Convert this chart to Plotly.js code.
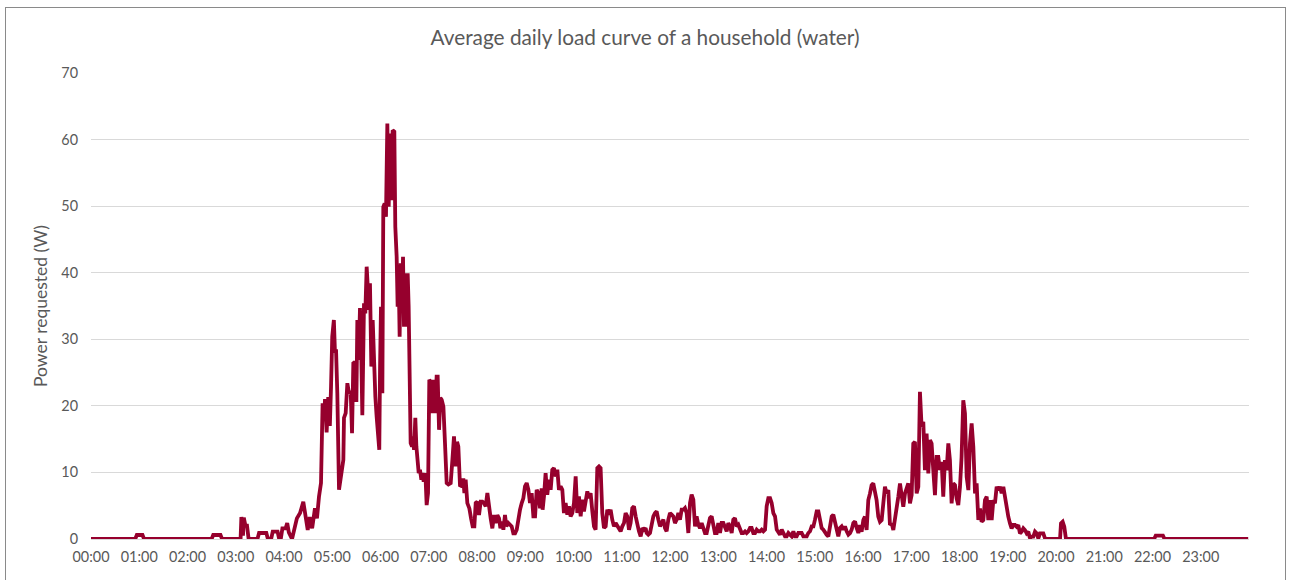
<!DOCTYPE html>
<html>
<head>
<meta charset="utf-8">
<script src="https://cdn.plot.ly/plotly-3.0.1.min.js"></script>
<style>
  html, body { margin: 0; padding: 0; background: #ffffff; }
  #wrap { position: relative; width: 1290px; height: 580px; overflow: hidden; }
  #chart { position: absolute; left: 0; top: 0; width: 1290px; height: 580px; }
  #frame { position: absolute; left: 5px; top: 7px; width: 1279px; height: 640px; border: 1px solid #8a8a8a; pointer-events: none; }
</style>
</head>
<body>
<div id="wrap">
  <div id="chart"></div>
  <div id="frame"></div>
</div>
<script>
// Time of day in minutes after midnight
const minutes = [
  0, 55, 57, 64, 66, 150, 152, 161, 163,
  186, 187, 189, 190, 192, 194, 196,
  207, 209, 218, 220, 224, 226, 232, 234,
  236, 238, 242, 244, 246, 250,
  256, 260, 264, 267, 269.5, 272, 275, 278.5, 281, 283.5, 286,
  288, 290, 291, 293, 295, 297, 298.5, 300, 302, 303.4, 304.7, 306.3, 308.4,
  311.7, 313.8, 314.6, 316.7, 318.8, 320.8, 322.9, 324.6, 326.2, 328.3, 330,
  331.2, 332.8, 334.5, 336.2, 337.4, 339.5, 341.1, 342.8, 344.5, 345.7, 346.9,
  348.6, 350.3, 351.9, 353.6, 355.2, 358.5, 359.4, 360.6, 362.3, 363.5, 365.2,
  366.8, 368.5, 370.2, 371.8, 373.5, 375.1, 377.2, 378.4, 380.1, 381.3, 382.6,
  383.8, 385.1, 386.7, 388, 389.2, 390.9, 392.1, 393.8, 395, 397.5, 399.2,
  400.4, 401.7, 403.3, 404.6, 405.8, 407.5, 409.1, 410.8, 412.4, 413.7, 415.8,
  417.4, 419.1, 420.7, 422.8, 424.5, 426.1, 427.8, 429.8, 431.1,
  432.8, 434.4, 436.1, 438.2, 440.2, 442.3, 444.4, 447.3, 449.4, 451.4, 453.5,
  455.2, 456.8, 458.9, 461, 463, 464.3, 465.9, 468, 470.5, 472.6, 474.6, 476.7,
  478.4, 480.4, 482.5, 484.6, 486.7, 488.7, 490.8, 492.9, 495, 497, 499.1,
  501.2, 503.2, 505.3, 507.4, 509.1, 510.7, 512.8, 514.8, 516.5, 519, 521.1,
  523.1, 525.2, 527.3, 529.4, 531.4, 533.5, 535.6, 537.6, 539.7, 541.8, 543.9,
  545.9, 548, 550.1, 552.2, 554.2, 556.3, 558.4, 560.4, 561.6, 563.3, 565.3,
  567.4, 569.5, 571.6, 573.6, 575.7, 577.8, 579.9, 581.9, 584, 586.1, 588.1,
  590.2, 592.3, 594.4, 596.4, 598.5, 600.6, 602.7, 604.7, 606.8, 608.9, 610.9,
  613, 615.1, 617.2, 619.2, 621.3, 623.4, 625.5, 627.5, 629.6, 631.7, 633.7,
  635.8, 637.9, 640, 642, 644.1, 646.2, 648.2, 650.3, 652.4, 654.5, 656.5,
  658.6, 660.7, 662.8, 664.8, 666.9, 669, 671, 673.1, 675.2, 677.3, 679.3,
  681.4, 683.5, 685.6, 687.6, 689.7,
  691.0, 693.0, 695.1, 697.2, 699.3, 701.3, 703.4, 705.5, 707.6, 709.6, 711.7,
  713.8, 715.8, 717.9, 720.0, 722.1, 724.1, 726.2, 728.3, 730.4, 732.4, 734.5,
  736.6, 738.6, 740.7, 742.8, 744.9, 746.9, 749.0, 751.1, 753.1, 755.2, 757.3,
  759.4, 761.4, 763.5, 765.6, 767.7, 769.7, 771.8, 773.9, 775.9, 778.0, 780.1,
  782.2, 784.2, 786.3, 788.4, 790.5, 792.5, 794.6, 796.7, 798.7, 800.8, 802.9,
  805.0, 807.0, 809.1, 811.2, 813.3, 815.3, 817.4, 819.5, 821.5, 823.6, 825.7,
  827.8, 829.9, 831.9, 834.0, 836.1, 838.2, 840.2, 842.3, 844.4, 846.4, 848.5,
  850.6, 852.7, 854.7, 856.8, 858.9, 861.0, 863.0, 865.1, 867.2, 869.2, 871.3,
  873.4, 875.5, 877.5, 879.6, 881.7, 883.7, 885.8, 887.9, 890.0, 892.0, 894.1,
  896.2, 898.3, 900.3, 902.4, 904.5, 906.5, 908.6, 910.7, 912.8, 914.8, 916.9,
  919.0, 921.1, 923.1, 925.2, 927.3, 929.3, 931.4, 933.5, 935.6, 937.6, 939.7,
  941.8, 943.9, 945.9, 948.0, 950.1, 952.1, 954.2,
  956.2, 958.3, 960.4, 962.4, 964.5, 966.6, 968.7, 970.7, 972.8, 974.9, 976.9,
  979.0, 981.1, 983.2, 985.2, 987.3, 989.4, 991.5, 993.5, 995.6, 997.7, 999.7,
  1001.8, 1003.9, 1006.0, 1008.0, 1010.1, 1012.2, 1014.2, 1016.3, 1018.4, 1020.5,
  1022.5, 1024.6, 1026.7, 1028.8, 1030.8, 1032.9, 1035.0, 1037.0, 1039.1, 1041.2,
  1043.3, 1045.3, 1047.4, 1049.5, 1051.6, 1053.6, 1055.7, 1057.8, 1059.8, 1061.9,
  1064.0, 1066.1, 1068.1, 1070.2, 1072.3, 1074.4, 1076.4, 1078.5, 1080.6, 1082.6,
  1084.7, 1086.8, 1088.9, 1091.0, 1093.0, 1095.1, 1097.2, 1099.3, 1101.3, 1103.4,
  1105.5, 1107.5, 1109.6, 1111.7, 1113.8, 1115.8, 1117.9, 1120.0, 1122.1, 1124.1,
  1126.2, 1128.3, 1130.3, 1132.4, 1134.5, 1136.6, 1138.6, 1140.7, 1142.8, 1144.8,
  1146.9, 1149.0, 1151.1, 1153.1, 1155.2, 1157.3, 1159.4, 1161.4, 1163.5, 1165.6,
  1167.6, 1169.7, 1171.8, 1173.9, 1175.9, 1178.0, 1180.1, 1182.2, 1184.2, 1186.3,
  1188.4, 1205.0, 1206.2, 1208.3, 1210.3, 1212.4,
  1322, 1324, 1333, 1335, 1439
];

// Average power requested (W)
const power = [
  0, 0, 0.6, 0.6, 0, 0, 0.6, 0.6, 0,
  0, 3.3, 0.5, 3.2, 2.0, 2.0, 0,
  0, 0.9, 0.9, 0, 0, 1.1, 1.1, 0,
  0, 1.6, 1.6, 2.4, 1.0, 0,
  3.1, 3.9, 5.6, 2.9, 1.35, 3.3, 1.6, 4.6, 3.1, 6.35, 8.4,
  20.4, 18.5, 21, 16, 21.3, 17, 22.9, 30.4, 32.9, 28, 28.5, 21.9, 7.4,
  9.9, 11.9, 18.2, 18.9, 23.4, 21.9, 22.2, 15.9, 26.4, 26.6, 20.6,
  32.9, 26.9, 34.7, 26.9, 18.6, 35.4, 33.9, 40.9, 37.9, 34.4, 38.4,
  25.9, 32.9, 25.9, 21.4, 18.4, 13.4, 25.4, 34.9, 21.9, 49.9, 50.4,
  48.4, 62.4, 49.9, 60.9, 50.9, 61.4, 61.2, 46.9, 42.4, 34.9, 39.4,
  30.4, 41.4, 34.9, 42.4, 31.9, 39.9, 31.9, 39.9, 34.9, 14.4, 13.9,
  15.4, 13.4, 18.2, 13.9, 12.4, 9.9, 10.4, 8.9, 9.9, 8.6, 9.9,
  5.1, 6.9, 23.9, 23.6, 18.9, 23.9, 18.9, 24.4, 24.4,
  16.4, 21.2, 20.9, 19.9, 14.4, 8.4, 8.2, 8.4, 11.9, 15.4, 10.9,
  14.6, 13.9, 7.9, 8.1, 9.1, 6.9, 8.9, 5.4, 4.6, 3.1, 1.9, 1.9,
  5.4, 5.6, 3.6, 5.6, 5.6, 5.4, 4.9, 6.9, 4.6, 3.1, 1.6,
  3.6, 2.4, 3.6, 3.1, 1.6, 2.6, 1.4, 3.6, 1.9, 2.4, 2.2,
  1.9, 0.85, 0.85, 1.4, 3.4, 4.4, 5.4, 6.1, 7.9, 8.4, 7.4,
  5.4, 6.9, 3.4, 3.4, 7.4, 6.9, 4.6, 7.6, 4.4, 6.4, 9.9,
  6.65, 8.9, 7.4, 10.4, 10.65, 9.4, 10.4, 7.4, 7.9, 7.4, 3.9,
  5.4, 3.65, 4.9, 3.4, 3.9, 5.4, 9.4, 3.9, 6.4, 3.4, 5.9,
  4.15, 5.9, 7.15, 6.15, 6.9, 4.15, 1.9, 1.4, 10.65, 10.9, 10.65,
  3.9, 1.65, 1.9, 4.4, 3.65, 4.4, 2.9, 1.9, 2.4, 1.9, 1.65,
  1.15, 1.9, 2.4, 3.9, 3.4, 1.4, 2.4, 4.65, 4.9, 3.4, 1.9,
  1.15, 0.4, 1.65, 1.4, 1.65,
  0.9, 0.65, 0.9, 2.4, 3.4, 3.9, 4.15, 2.9, 1.9, 2.4, 2.9,
  1.65, 1.15, 2.9, 3.9, 3.65, 3.4, 2.4, 2.9, 3.9, 2.9, 4.4,
  4.4, 4.65, 3.9, 0.9, 5.4, 6.65, 5.9, 1.9, 3.4, 2.15, 1.65,
  2.4, 1.65, 0.9, 0.9, 1.9, 3.15, 3.4, 2.4, 0.9, 0.9, 2.4,
  0.9, 2.4, 2.4, 1.9, 1.15, 2.4, 1.9, 0.9, 2.9, 3.15, 1.9,
  2.15, 1.65, 0.9, 0.9, 1.15, 0.9, 1.15, 1.65, 1.65, 0.9, 0.9,
  1.4, 1.15, 1.15, 1.4, 1.15, 1.4, 4.9, 6.15, 6.15, 5.4, 3.9,
  3.4, 1.4, 0.9, 0.65, 1.4, 0.9, 0.4, 0.4, 0.9, 0.65, 0.4,
  1.15, 0.4, 0.4, 0.9, 0.9, 0.9, 0.4, 0.4, 0.4, 0.9, 1.15,
  1.9, 1.9, 2.9, 4.15, 4.15, 2.9, 1.65, 1.4, 0.9, 0.65, 0.4,
  1.9, 3.4, 3.65, 2.4, 0.9, 0.4, 1.65, 1.9, 1.4, 1.9, 1.15,
  0.65, 0.9, 1.4, 2.4, 2.65, 1.65, 0.9,
  2.1, 1.1, 2.85, 3.35, 1.35, 5.85, 6.85, 8.1, 8.35, 6.85, 5.85,
  3.35, 2.6, 2.85, 5.85, 7.85, 6.85, 7.35, 2.1, 2.35, 1.35, 3.35,
  5.35, 6.35, 8.35, 6.6, 4.85, 6.85, 7.85, 8.35, 5.35, 6.6,
  14.35, 14.6, 6.85, 7.85, 22.1, 16.85, 17.6, 10.35, 15.85, 9.85,
  14.85, 14.35, 10.35, 6.6, 12.35, 12.35, 10.35, 11.6, 6.35, 11.85,
  10.35, 14.35, 11.85, 5.35, 8.35, 8.1, 6.1, 5.1, 7.85, 12.35,
  20.85, 18.85, 9.35, 7.35, 14.35, 17.35, 13.85, 6.85, 8.35, 2.85,
  4.6, 2.6, 2.85, 5.85, 6.35, 2.85, 5.85, 2.85, 5.85, 5.35,
  7.85, 7.35, 7.85, 6.85, 7.85, 6.35, 4.35, 3.35, 2.35, 1.6,
  2.1, 2.1, 1.85, 2.1, 0.85, 1.1, 1.6, 1.35, 0.85, 1.1,
  0.1, 0.35, 0.35, 1.1, 0.85, 0.1, 0.85, 0.85, 0.85, 0.1,
  0, 0, 2.35, 2.6, 1.85, 0,
  0, 0.5, 0.5, 0, 0
];

const hourTicks = [0, 60, 120, 180, 240, 300, 360, 420, 480, 540, 600, 660, 720,
  780, 840, 900, 960, 1020, 1080, 1140, 1200, 1260, 1320, 1380];
const hourLabels = ["00:00", "01:00", "02:00", "03:00", "04:00", "05:00", "06:00",
  "07:00", "08:00", "09:00", "10:00", "11:00", "12:00", "13:00", "14:00", "15:00",
  "16:00", "17:00", "18:00", "19:00", "20:00", "21:00", "22:00", "23:00"];

const chartTitle = "Average daily load curve of a household (water)";
const yTitle = "Power requested (W)";

const FONT = "Lato, 'Open Sans', sans-serif";
const GREY = "#595959";

const trace = {
  type: "scatter",
  mode: "lines",
  x: minutes,
  y: power,
  line: { color: "#96002D", width: 3.8, shape: "linear" },
  hoverinfo: "x+y",
  showlegend: false
};

const layout = {
  width: 1290,
  height: 580,
  margin: { l: 91, r: 41, t: 73, b: 41, pad: 0 },
  paper_bgcolor: "#ffffff",
  plot_bgcolor: "#ffffff",
  font: { family: FONT, color: GREY, size: 15 },
  title: {
    text: chartTitle,
    font: { family: FONT, size: 20.8, color: GREY },
    xref: "container", x: 0.5, xanchor: "center",
    yref: "container", y: 1 - 38 / 580, yanchor: "middle"
  },
  xaxis: {
    range: [0, 1440],
    tickmode: "array",
    tickvals: hourTicks,
    ticktext: hourLabels,
    showgrid: false,
    zeroline: false,
    showline: false,
    ticks: "",
    ticklabelstandoff: 8,
    tickfont: { family: FONT, size: 14.4, color: GREY },
    fixedrange: true
  },
  yaxis: {
    range: [0, 70],
    dtick: 10,
    tick0: 0,
    showgrid: true,
    gridcolor: "#D9D9D9",
    gridwidth: 1,
    zeroline: true,
    zerolinecolor: "#D9D9D9",
    zerolinewidth: 1,
    showline: false,
    ticks: "",
    ticklabelstandoff: 12,
    tickfont: { family: FONT, size: 14.4, color: GREY },
    title: { text: yTitle, font: { family: FONT, size: 17.5, color: GREY }, standoff: 9 },
    automargin: false,
    fixedrange: true
  }
};

Plotly.newPlot("chart", [trace], layout, { displayModeBar: false, staticPlot: true });
</script>
</body>
</html>
